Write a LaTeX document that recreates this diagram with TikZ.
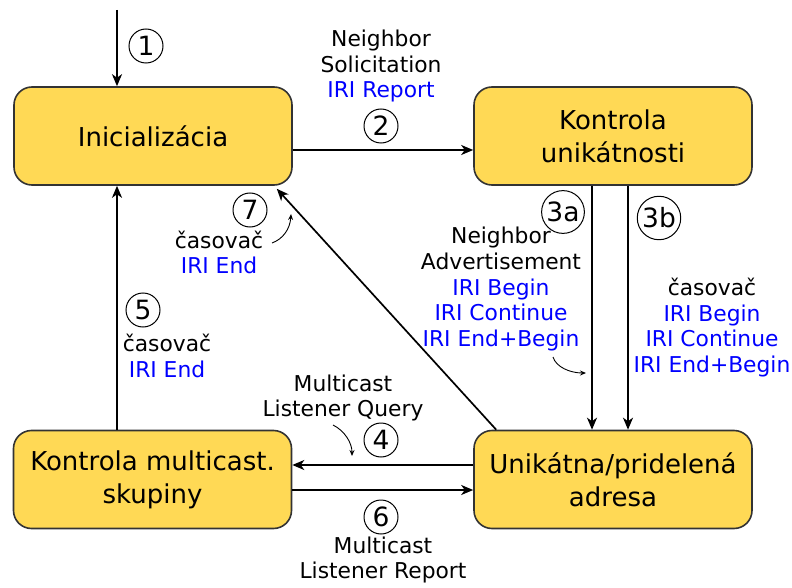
\documentclass[tikz,border=0pt]{standalone}
\usepackage{fontspec}
\setmainfont{DejaVu Sans}
\usetikzlibrary{arrows.meta,calc}
\definecolor{boxfill}{RGB}{255,217,85}
\definecolor{boxline}{RGB}{51,51,51}
\definecolor{iri}{RGB}{0,0,255}
\begin{document}
\begin{tikzpicture}[x=1pt,y=-1pt,
  state/.style={draw=boxline,line width=1.6pt,fill=boxfill,rounded corners=18pt,
    minimum width=278pt,minimum height=98pt,align=center,
    font=\fontsize{26}{33}\selectfont},
  arr/.style={line width=1.7pt,-{Stealth[length=12pt,width=10pt,inset=3.5pt]}},
  small arr/.style={line width=0.9pt,-{Stealth[length=6pt,width=5pt,inset=2pt]}},
  num/.style={circle,draw,line width=1pt,inner sep=1.5pt,minimum size=34pt,
    font=\fontsize{26.5}{30}\selectfont},
  lbl/.style={align=center,font=\fontsize{21.8}{25.8}\selectfont}]
\useasboundingbox (0,0) rectangle (792,588);

% states
\node[state] (init)  at (153,136)   {Inicializácia};
\node[state] (uniq)  at (613,136)   {Kontrola\\unikátnosti};
\node[state] (mcast) at (152.5,479.5) {Kontrola multicast.\\skupiny};
\node[state] (addr)  at (613,479.5) {Unikátna/pridelená\\adresa};

% transitions
\coordinate (start) at (117,10);
\draw[arr] (start) -- (start |- init.north);
\draw[arr] ($(init.east)+(0,14)$) -- ($(uniq.west)+(0,14)$);
\draw[arr] ($(uniq.south)+(-21,0)$) -- ($(addr.north)+(-21,0)$);
\draw[arr] ($(uniq.south)+(15,0)$) -- ($(addr.north)+(15,0)$);
\draw[arr] ($(addr.west)+(0,-14.5)$) -- ($(mcast.east)+(0,-14.5)$);
\draw[arr] ($(mcast.east)+(0,10.5)$) -- ($(addr.west)+(0,10.5)$);
\draw[arr] ($(mcast.north)+(-35.5,0)$) -- ($(init.south)+(-36,0)$);
\draw[arr] ($(addr.north west)+(23,0)$) -- ($(init.south east)+(-16,3)$);

% step numbers
\node[num] (n1)  at (146,46)  {1};
\node[num] (n2)  at (381,126) {2};
\node[num] (n3a) at (563,212) {3a};
\node[num] (n3b) at (659,218) {3b};
\node[num] (n4)  at (381,440) {4};
\node[num] (n5)  at (143,310) {5};
\node[num] (n6)  at (381,517) {6};
\node[num] (n7)  at (250,210) {7};

% message labels
\node[lbl] (l2) at (381,66) {Neighbor\\Solicitation\\\textcolor{iri}{IRI Report}};
\node[lbl] (l3a) at (501,289) {Neighbor\\Advertisement\\\textcolor{iri}{IRI Begin}\\\textcolor{iri}{IRI Continue}\\\textcolor{iri}{IRI End+Begin}};
\node[lbl] (l3b) at (712,327.5) {časovač\\\textcolor{iri}{IRI Begin}\\\textcolor{iri}{IRI Continue}\\\textcolor{iri}{IRI End+Begin}};
\node[lbl] (l5) at (167,356) {časovač\\\textcolor{iri}{IRI End}};
\node[lbl] (l7) at (219,252.5) {časovač\\\textcolor{iri}{IRI End}};
\node[lbl] (l4) at (343,398) {Multicast\\Listener Query};
\node[lbl] (l6) at (383,560) {Multicast\\Listener Report};

% pointers from labels to their transitions
\coordinate (p7a) at (272,243);  \coordinate (p7b) at (291,214);
\coordinate (p3a) at (553,357);  \coordinate (p3b) at (586,373);
\coordinate (p4a) at (333,425);  \coordinate (p4b) at (352,456);
\draw[small arr] (p7a) .. controls (283,239) and (290,229) .. (p7b);
\draw[small arr] (p3a) .. controls (556,367) and (570,373) .. (p3b);
\draw[small arr] (p4a) .. controls (345,431) and (352,443) .. (p4b);
\end{tikzpicture}
\end{document}
